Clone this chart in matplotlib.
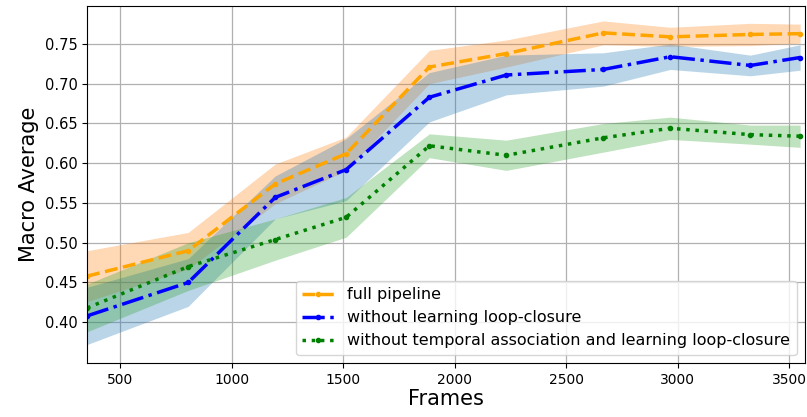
import matplotlib
matplotlib.use("Agg")
import matplotlib.pyplot as plt
import numpy as np

frames = [352, 805, 1195, 1513, 1886, 2231, 2666, 2966, 3325, 3548]

full_mean = [0.458, 0.490, 0.574, 0.612, 0.721, 0.738, 0.764, 0.759, 0.762, 0.763]
full_std = [0.032, 0.023, 0.025, 0.021, 0.021, 0.017, 0.015, 0.012, 0.014, 0.012]

nolc_mean = [0.408, 0.450, 0.557, 0.592, 0.683, 0.711, 0.718, 0.734, 0.723, 0.733]
nolc_std = [0.036, 0.030, 0.027, 0.039, 0.031, 0.025, 0.021, 0.016, 0.013, 0.016]

nota_mean = [0.418, 0.470, 0.504, 0.532, 0.622, 0.610, 0.632, 0.644, 0.636, 0.634]
nota_std = [0.030, 0.030, 0.026, 0.025, 0.015, 0.019, 0.018, 0.014, 0.012, 0.014]

labels = ["full pipeline", "without learning loop-closure",
          "without temporal association and learning loop-closure"]

yticks = [0.40, 0.45, 0.50, 0.55, 0.60, 0.65, 0.70, 0.75]

fig = plt.figure(figsize=(8.07, 4.17), dpi=100)
ax = fig.add_axes([0.108, 0.130, 0.889, 0.856])

x = np.array(frames)
series = [
    (full_mean, full_std, "orange", "--", "C1"),
    (nolc_mean, nolc_std, "blue", "-.", "C0"),
    (nota_mean, nota_std, "green", ":", "C2"),
]
for (m, s, c, ls, fc), lab in zip(series, labels):
    ax.plot(x, m, color=c, linestyle=ls, marker=".", linewidth=2.5, label=lab)
for (m, s, c, ls, fc) in series:
    m = np.array(m); s = np.array(s)
    ax.fill_between(x, m - s, m + s, color=fc, alpha=0.3, linewidth=0)

ax.set_xlim(frames[0], frames[-1] + 20)
ax.set_ylim(0.349, 0.798)
ax.set_yticks(yticks)
ax.set_yticklabels([f"{v:.2f}" for v in yticks])
ax.grid(True, color="#b0b0b0", linewidth=0.9)
ax.set_axisbelow(True)
ax.set_xlabel("Frames", fontsize=15, labelpad=2)
ax.set_ylabel("Macro Average", fontsize=15)
ax.tick_params(axis="y", labelsize=10.5)
ax.tick_params(axis="x", labelsize=10)
ax.legend(loc="lower right", fontsize=11.5)

fig.savefig("out.png", dpi=100)
